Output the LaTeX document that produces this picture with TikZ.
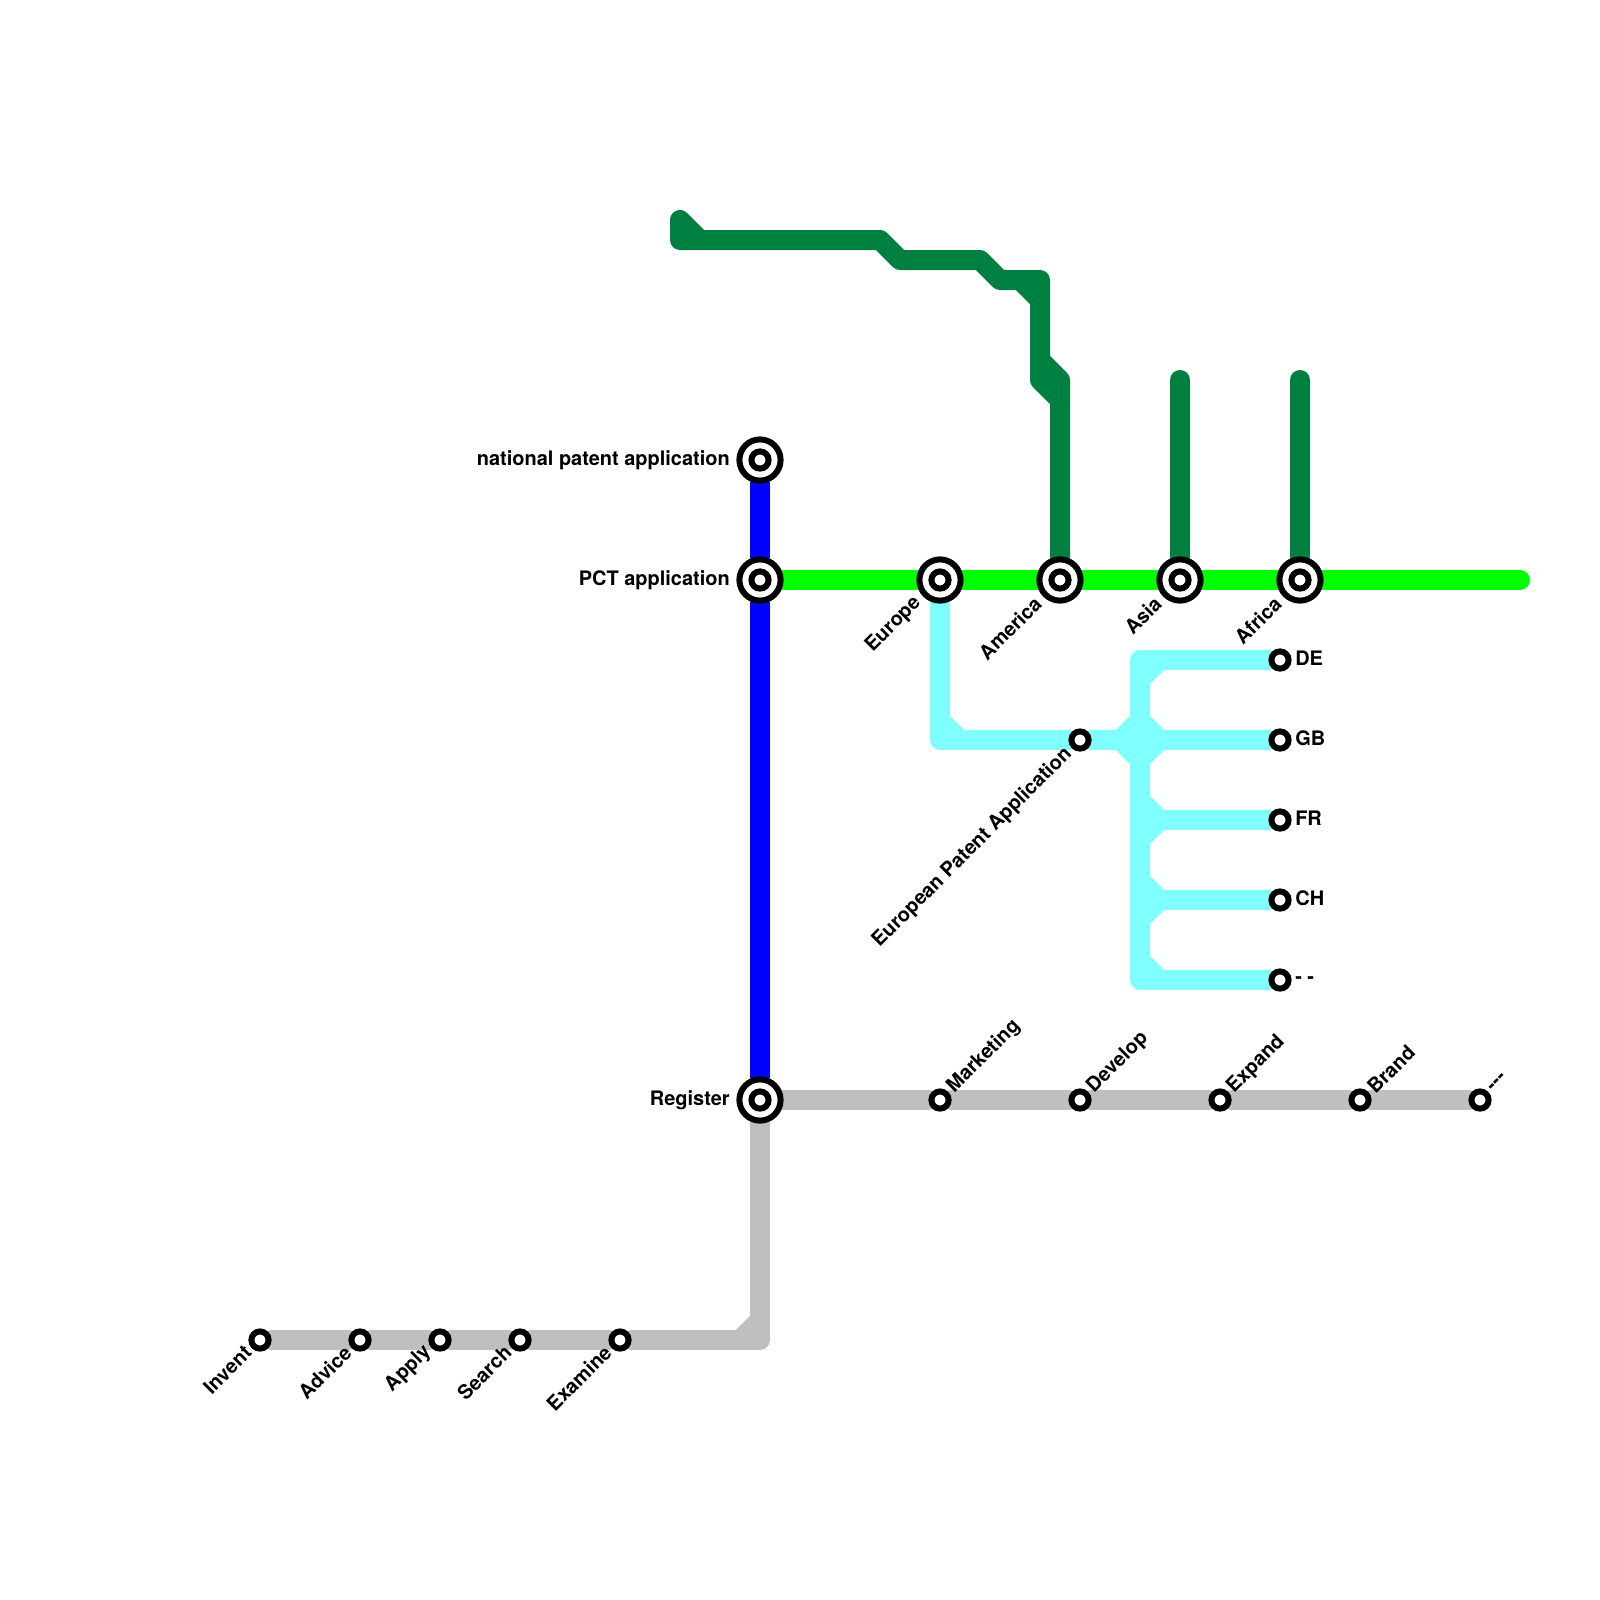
\documentclass[tikz,border=0pt]{standalone}
\usepackage{fontspec}
\setmainfont{TeX Gyre Heros}
\usetikzlibrary{backgrounds}
\definecolor{linegray}{HTML}{BFBFBF}
\definecolor{linecyan}{HTML}{80FFFF}
\definecolor{linegreen}{HTML}{008040}
\definecolor{linelime}{HTML}{00FF00}
\definecolor{lineblue}{HTML}{0000FF}
\tikzset{
	track/.style={line width=0.5cm, line cap=round, line join=round},
	outerstop/.style={circle, draw=black, fill=white, line width=1.5mm, minimum size=10.3mm, inner sep=0pt},
	innerstop/.style={circle, draw=black, fill=white, line width=1.5mm, minimum size=4.3mm, inner sep=0pt},
	stoptext/.style={font=\fontsize{14.2}{17}\selectfont\bfseries, inner sep=0pt, text=black},
	downtext/.style={stoptext, rotate=45, anchor=east},
	uptext/.style={stoptext, rotate=45, anchor=west}
}

\begin{document}
\begin{tikzpicture}[x=0.5cm, y=-0.5cm]
\useasboundingbox (0,0) rectangle (80,80);

\foreach \n/\x/\y in {nat/38/23, pct/38/29, reg/38/55, eur/47/29, ame/53/29, asi/59/29, afr/65/29} {
	\node[outerstop] (\n) at (\x, \y) {};
	\node[innerstop] (\n in) at (\x, \y) {};
}
\foreach \n/\x/\y in {inv/13/67, adv/18/67, app/22/67, sea/26/67, exa/31/67,
	epa/54/37, de/64/33, gb/64/37, fr/64/41, ch/64/45, xx/64/49,
	mar/47/55, dev/54/55, exp/61/55, bra/68/55, yy/74/55} {
	\node[innerstop] (\n) at (\x, \y) {};
}

\foreach \n/\x/\y in {limeend/76/29, gbend/38/67, gbstub/37/67, gbstubb/38/66,
	gr1/35/12, gr2/34/11, gr3/34/12, gr4/44/12, gr5/45/13, gr6/49/13, gr7/50/14, gr8/52/14,
	gr9/52/19, gr10/53/20, gr11/51/14, gr12/52/15, gr13/52/18, gr14/53/19,
	asitop/59/19, afrtop/65/19,
	cy1/47/37, cy2/47/36, cy3/48/37, cy4/57/33, cy5/57/49, cy6/57/34, cy7/58/33,
	cy8/56/37, cy9/57/36, cy10/58/37, cy11/57/38,
	cy12/57/40, cy13/58/41, cy14/57/42, cy15/57/44, cy16/58/45, cy17/57/46, cy18/57/48, cy19/58/49} {
	\coordinate (\n) at (\x, \y);
}

\begin{scope}[on background layer]
	\draw[track, linegray] (inv) -- (adv) -- (app) -- (sea) -- (exa) -- (gbend) -- (reg);
	\draw[track, linegray] (gbstub) -- (gbstubb);
	\draw[track, linegray] (reg) -- (mar) -- (dev) -- (exp) -- (bra) -- (yy);
	\draw[track, lineblue] (nat) -- (pct) -- (reg);
	\draw[track, linelime] (pct) -- (eur) -- (ame) -- (asi) -- (afr) -- (limeend);

	\draw[track, linegreen] (gr1) -- (gr2) -- (gr3) -- (gr4) -- (gr5) -- (gr6) -- (gr7) -- (gr8) -- (gr9) -- (gr10) -- (ame);
	\draw[track, linegreen] (gr11) -- (gr12);
	\draw[track, linegreen] (gr13) -- (gr14) -- (gr10);
	\draw[track, linegreen] (asitop) -- (asi);
	\draw[track, linegreen] (afrtop) -- (afr);

	\draw[track, linecyan] (eur) -- (cy1) -- (epa) -- (gb);
	\draw[track, linecyan] (cy2) -- (cy3);
	\draw[track, linecyan] (de) -- (cy4) -- (cy5) -- (xx);
	\draw[track, linecyan] (cy6) -- (cy7);
	\draw[track, linecyan] (cy8) -- (cy9) -- (cy10) -- (cy11) -- cycle;
	\draw[track, linecyan] (cy12) -- (cy13) -- (cy14);
	\draw[track, linecyan] (cy15) -- (cy16) -- (cy17);
	\draw[track, linecyan] (cy18) -- (cy19);
	\draw[track, linecyan] (cy13) -- (fr);
	\draw[track, linecyan] (cy16) -- (ch);
\end{scope}

\foreach \n/\t in {nat/national patent application, pct/PCT application, reg/Register} {
	\node[stoptext, anchor=east] (lab\n) at ([shift={(-1.5,0)}]\n) {\t};
}
\foreach \n/\t in {de/DE, gb/GB, fr/FR, ch/CH} {
	\node[stoptext, anchor=west] (lab\n) at ([shift={(0.75,-0.1)}]\n) {\t};
}
\node[stoptext, anchor=west] (labxx) at ([shift={(0.75,0)}]xx) {- -};
\foreach \n/\t in {inv/Invent, adv/Advice, app/Apply, sea/Search, exa/Examine} {
	\node[downtext] (lab\n) at ([shift={(-0.6,0.45)}]\n) {\t};
}
\node[downtext] (labepa) at ([shift={(-0.55,0.55)}]epa) {European Patent Application};
\foreach \n/\t in {eur/Europe, ame/America, asi/Asia, afr/Africa} {
	\node[downtext] (lab\n) at ([shift={(-1.1,1)}]\n) {\t};
}
\foreach \n/\t in {mar/Marketing, dev/Develop, exp/Expand, bra/Brand, yy/-{}-{}-} {
	\node[uptext] (lab\n) at ([shift={(0.52,-0.5)}]\n) {\t};
}
\end{tikzpicture}
\end{document}
